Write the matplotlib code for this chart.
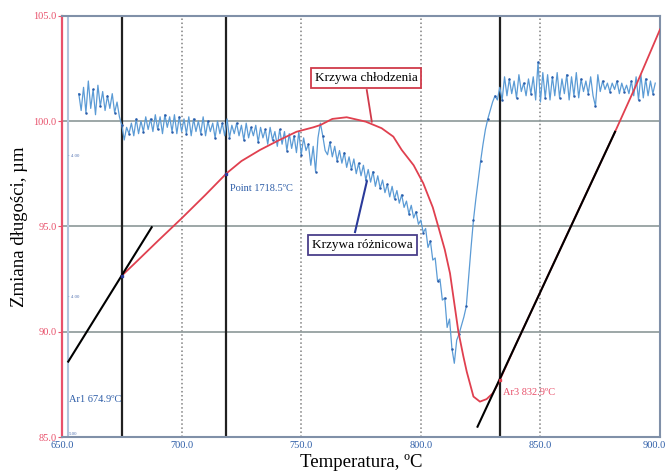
import numpy as np
import matplotlib
matplotlib.use("Agg")
import matplotlib.pyplot as plt
import matplotlib.transforms as mtransforms

plt.rcParams['font.family'] = ['Liberation Serif', 'DejaVu Serif']

# krzywa różnicowa, odczyt co 1 °C od 657 °C
roznicowa_start = 657
roznicowa = [
    101.3, 100.5, 101.6, 100.4, 101.9, 100.6, 101.5, 100.3, 101.7, 100.7, 101.4, 100.5, 101.2, 100.6, 101.3, 100.4, 100.9, 100.2,
    99.8, 99.1, 99.7, 99.4, 99.9, 99.3, 100.1, 99.4, 100.0, 99.5, 100.2, 99.6, 100.1, 99.5, 100.3, 99.6, 100.2, 99.4, 100.3, 99.7,
    100.2, 99.5, 100.3, 99.4, 100.2, 99.5,
    100.1, 99.4, 100.2, 99.3, 100.1, 99.5, 100.0, 99.4, 100.2, 99.3, 100.0, 99.5, 99.9, 99.2, 100.0, 99.4, 99.9, 99.3, 100.1, 99.2,
    99.8, 99.4, 99.9, 99.3, 99.8, 99.1, 99.9, 99.2, 99.7, 99.3,
    99.8, 99.0, 99.7, 99.2, 99.6, 98.9, 99.7, 99.1, 99.5, 98.8, 99.6, 98.9, 99.5, 98.6, 99.4, 98.7, 99.3, 98.5, 99.5, 98.4,
    99.2, 98.6, 98.9, 97.9, 98.8, 97.6,
    99.2, 99.9, 99.3, 98.6,
    98.4, 99.0, 98.3, 98.8, 98.1, 98.6, 98.0, 98.5, 97.8, 98.3, 97.7, 98.2, 97.5, 98.0, 97.4, 97.9, 97.2, 97.7, 97.1, 97.6,
    96.9, 97.4, 96.8, 97.2, 96.6, 97.0, 96.4, 96.9, 96.3, 96.7,
    96.1, 96.5, 95.9, 96.2, 95.6, 96.0, 95.4, 95.7, 95.1, 95.3, 94.7, 94.9, 94.0, 94.3, 93.4,
    93.5, 92.4, 92.5, 91.5, 91.6, 90.2, 90.6, 89.2, 88.5, 89.6,
    89.9, 90.3, 90.7, 91.2, 92.6, 94.0, 95.3, 96.3, 97.2, 98.1, 98.9, 99.6, 100.1, 100.5, 100.9, 101.2, 101.0, 101.6,
    101.0, 102.1, 101.2, 102.0, 101.3, 101.9, 101.1, 102.2, 101.4, 101.8,
    101.2, 102.0, 101.3, 102.1, 101.0, 102.8, 100.9, 102.3, 101.1, 102.2,
    101.0, 102.1, 101.2, 102.3, 101.1, 102.0, 101.3, 102.2, 101.0, 102.1,
    101.2, 102.3, 101.1, 102.0, 101.4, 101.9, 101.3, 102.1, 101.2, 100.7,
    102.2, 101.4, 101.9, 101.5, 101.8, 101.4, 101.8, 101.5, 101.9, 101.3,
    101.8, 101.4, 101.7, 101.3, 101.9, 101.2, 102.1, 101.0, 102.2, 101.1,
    102.0, 101.2, 101.9, 101.3, 101.8,
]

# krzywa chłodzenia
chl_t = [674.9, 680, 690, 700, 710, 718.8, 725, 732.8, 740, 748, 755, 758, 763, 769, 777, 783.6, 788.5,
         792, 797, 801, 805, 807.3, 810, 812.2, 815.7, 817.8, 819.2, 822, 824.7, 827.5, 830.1, 832.4,
         840, 850, 860, 870, 881.2, 890, 900]
chl_v = [92.65, 93.2, 94.3, 95.38, 96.5, 97.52, 98.1, 98.63, 99.05, 99.49, 99.7, 99.81, 100.1, 100.18, 99.97, 99.66, 99.26,
         98.63, 97.9, 97.05, 95.9, 94.99, 93.9, 92.77, 90.0, 88.82, 88.1, 86.92, 86.68, 86.8, 87.08, 87.55,
         89.46, 91.9, 94.34, 96.77, 99.49, 101.7, 104.35]

# styczne
styczna1_t = [652.6, 687.5]
styczna1_v = [88.58, 94.96]
styczna2_t = [823.7, 881.2]
styczna2_v = [85.49, 99.49]

pionowe = [674.9, 718.5, 832.9]
x_ticks = [650, 700, 750, 800, 850, 900]
y_ticks = [85, 90, 95, 100, 105]

niebieski = '#2e5ea8'
czerwony = '#e8506a'

fig = plt.figure(figsize=(6.69, 4.76), dpi=100)
ax = fig.add_axes([0.0927, 0.0819, 0.8939, 0.8851])
ax.set_xlim(650, 900)
ax.set_ylim(85, 105)

# siatka
for x in x_ticks[1:-1]:
    ax.axvline(x, color='#808080', ls=':', lw=1.1, zorder=1)
for y in y_ticks[1:-1]:
    ax.axhline(y, color='#8c9898', lw=1.2, zorder=1)
ax.axvline(652.6, color='#b0c4dc', lw=1.5, zorder=1)

# linie pionowe
for x in pionowe:
    ax.axvline(x, color='#202020', lw=1.6, zorder=2)

# krzywe
t = roznicowa_start + np.arange(len(roznicowa))
ax.plot(t, roznicowa, color='#5b9bd5', lw=0.9, zorder=3)
ax.plot(t[::3], roznicowa[::3], 'o', ms=0.8, color='#2a5caa', zorder=3)
ax.plot(chl_t, chl_v, color='#e0404f', lw=1.3, zorder=4)
ax.plot(styczna1_t, styczna1_v, color='black', lw=1.5, zorder=5)
ax.plot(styczna2_t, styczna2_v, color='black', lw=1.5, zorder=5)

# punkty
ax.plot([674.9, 718.5], [92.65, 97.5], 's', ms=2, color='#2a3a9a', zorder=6)
ax.plot([832.9], [87.7], 's', ms=2, color='#e0404f', zorder=6)

# opisy
ax.text(720.2, 96.82, 'Point 1718.5ºC', color=niebieski, fontsize=7.5, va='center')
ax.text(652.9, 86.8, 'Ar1 674.9ºC', color=niebieski, fontsize=7.5, va='center')
ax.text(834.4, 87.13, 'Ar3 832.9ºC', color=czerwony, fontsize=7.5, va='center')

ax.plot([777.4, 779.5], [101.47, 99.97], color='#d03a4a', lw=1.3, zorder=6)
ax.text(777.1, 102.04, 'Krzywa chłodzenia', fontsize=9.5, ha='center', va='center', zorder=7,
        bbox=dict(boxstyle='square,pad=0.3', fc='white', ec='#d03a4a', lw=1.3))
ax.plot([772.5, 777.4], [94.73, 97.12], color='#2a3a9a', lw=1.5, zorder=6)
ax.text(775.6, 94.1, 'Krzywa różnicowa', fontsize=9.5, ha='center', va='center', zorder=7,
        bbox=dict(boxstyle='square,pad=0.3', fc='white', ec='#4a3f8a', lw=1.3))

# drobne znaczniki przy lewej osi
for y in [98.33, 91.65]:
    ax.text(652.5, y, '- 4.00', color='#5070b0', fontsize=3.5, va='center')
ax.text(652.8, 85.15, '5.00', color='#5070b0', fontsize=3.5, va='center')

# osie
ax.set_xticks(x_ticks)
ax.set_xticklabels([f'{v:.1f}' for v in x_ticks])
ax.set_yticks(y_ticks)
ax.set_yticklabels([f'{v:.1f}' for v in y_ticks])
ax.tick_params(axis='x', length=0, pad=3, labelsize=7.5, labelcolor=niebieski)
ax.tick_params(axis='y', length=3, pad=1, labelsize=7.5, labelcolor=czerwony, color=czerwony)
ostatni = ax.get_xticklabels()[-1]
ostatni.set_transform(ostatni.get_transform() + mtransforms.ScaledTranslation(-4 / 72, 0, fig.dpi_scale_trans))
for s in ['top', 'right', 'bottom']:
    ax.spines[s].set_color('#8090a8')
    ax.spines[s].set_linewidth(1.5)
ax.spines['left'].set_color(czerwony)
ax.spines['left'].set_linewidth(1.6)

ax.set_xlabel('Temperatura, ºC', fontsize=13.5, labelpad=3)
ax.set_ylabel('Zmiana długości, µm', fontsize=13.5, labelpad=4)

fig.savefig('out.png', dpi=100)
